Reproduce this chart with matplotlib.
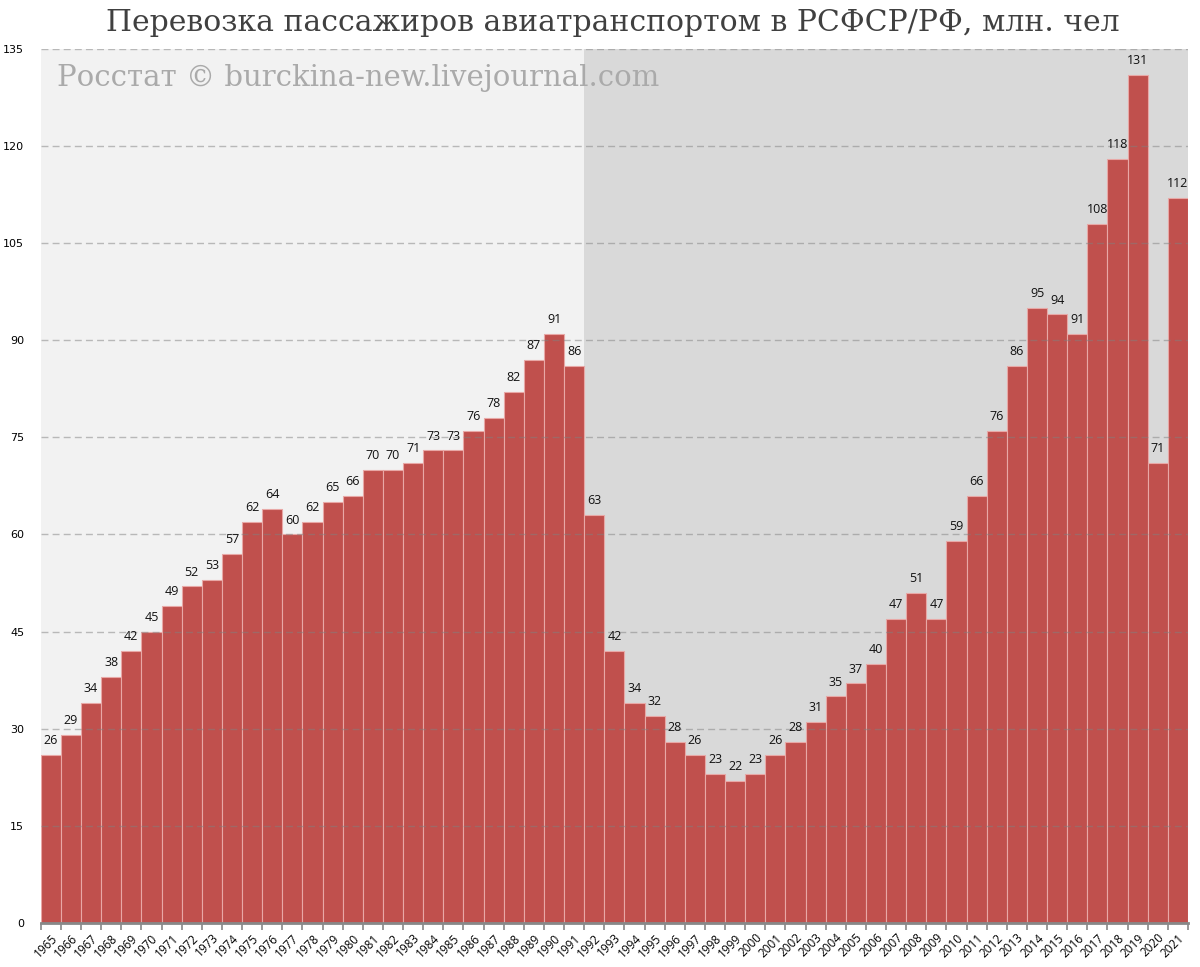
import matplotlib.pyplot as plt
import numpy as np

years = list(range(1965, 2022))
passengers = [26, 29, 34, 38, 42, 45, 49, 52, 53, 57,
              62, 64, 60, 62, 65, 66, 70, 70, 71, 73,
              73, 76, 78, 82, 87, 91, 86, 63, 42, 34,
              32, 28, 26, 23, 22, 23, 26, 28, 31, 35,
              37, 40, 47, 51, 47, 59, 66, 76, 86, 95,
              94, 91, 108, 118, 131, 71, 112]
y_ticks = list(range(0, 136, 15))

title = 'Перевозка пассажиров авиатранспортом в РСФСР/РФ, млн. чел'
watermark = 'Росстат © burckina-new.livejournal.com'

fig = plt.figure(figsize=(12, 9.67), dpi=100)
ax = fig.add_axes([0.034, 0.0455, 0.956, 0.904])

x = np.arange(len(years))
split = years.index(1991) + 0.5

# background: soviet period light, after 1991 darker
ax.axvspan(-0.5, split, color='#f2f2f2', zorder=0, lw=0)
ax.axvspan(split, len(years) - 0.5, color='#d9d9d9', zorder=0, lw=0)

bars = ax.bar(x, passengers, width=1.0, color='#c0504d',
              edgecolor='#e8a8a6', linewidth=0.8, zorder=2)

for xi, v in zip(x, passengers):
    ax.text(xi, v + 1.2, str(v), ha='center', va='bottom',
            fontsize=9, family='Open Sans', color='#111111', zorder=4)

# dashed grid on top of the bars
for t in y_ticks[1:]:
    ax.axhline(t, color='#808080', alpha=0.5, lw=1, ls=(0, (5, 3)), zorder=3)

ax.set_xlim(-0.5, len(years) - 0.5)
ax.set_ylim(0, 135)
ax.set_yticks(y_ticks)
ax.tick_params(axis='y', length=0, labelsize=8, pad=12)

ax.set_xticks(x)
ax.set_xticklabels([str(y) for y in years], rotation=45, ha='right',
                   rotation_mode='anchor', fontsize=8.5, family='Open Sans')
ax.tick_params(axis='x', which='major', length=0, pad=6)
ax.set_xticks(np.arange(-0.5, len(years)), minor=True)
ax.tick_params(axis='x', which='minor', length=5, width=1.2, color='#888888')

for s in ['top', 'right', 'left']:
    ax.spines[s].set_visible(False)
ax.spines['bottom'].set_color('#888888')
ax.spines['bottom'].set_linewidth(2)
ax.spines['bottom'].set_zorder(5)

fig.text(0.511, 0.976, title, ha='center', va='center', fontsize=21.5,
         family='DejaVu Serif', color='#404040')
ax.text(0.014, 0.967, watermark, transform=ax.transAxes, ha='left', va='center',
        fontsize=21, family='DejaVu Serif', color='#aaaaaa', zorder=1)

fig.savefig('out.png', dpi=100)
